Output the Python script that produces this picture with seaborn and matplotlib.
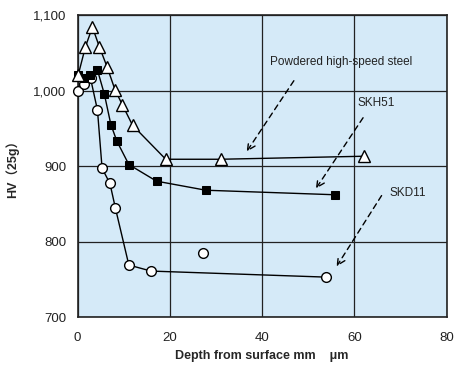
import matplotlib
matplotlib.use("Agg")
import matplotlib.pyplot as plt
import pandas as pd
import seaborn as sns

# Powdered high-speed steel (triangles)
phs_x = [0.1, 1.7, 3.2, 4.7, 6.4, 8.1, 9.7, 11.9, 19.1, 31.0, 62.0]
phs_y = [1020, 1058, 1084, 1058, 1031, 1001, 981, 954, 909, 909, 913]

# SKH51 (filled squares)
skh_x = [0.1, 1.4, 2.7, 4.3, 5.8, 7.2, 8.5, 11.1, 17.1, 27.8, 55.8]
skh_y = [1020, 1017, 1020, 1027, 995, 955, 933, 902, 880, 868, 862]

# SKD11 (open circles)
skd_x = [0.1, 1.4, 2.8, 4.3, 5.3, 7.0, 8.2, 11.1, 15.9, 53.8]
skd_y = [1000, 1008, 1016, 974, 897, 877, 844, 769, 761, 753]
skd_extra_x = [27.2]
skd_extra_y = [785]

x_ticks = [0, 20, 40, 60, 80]
y_ticks = [700, 800, 900, 1000, 1100]
y_tick_labels = ["700", "800", "900", "1,000", "1,100"]

sns.set_style("white")
plt.rcParams['font.family'] = ['Liberation Sans', 'Noto Sans CJK JP', 'DejaVu Sans']

fig = plt.figure(figsize=(4.54, 3.74), dpi=100)
ax = fig.add_axes([0.171, 0.152, 0.813, 0.808])
ax.set_facecolor("#d5eaf8")

phs = pd.DataFrame({"x": phs_x, "y": phs_y})
skh = pd.DataFrame({"x": skh_x, "y": skh_y})
skd = pd.DataFrame({"x": skd_x, "y": skd_y})

sns.lineplot(data=skd, x="x", y="y", ax=ax, color="black", lw=1, marker="o",
             markersize=7, markerfacecolor="white", markeredgecolor="black",
             markeredgewidth=1, zorder=3, clip_on=False)
sns.scatterplot(x=skd_extra_x, y=skd_extra_y, ax=ax, marker="o", s=49,
                facecolor="white", edgecolor="black", linewidth=1, zorder=3)
sns.lineplot(data=skh, x="x", y="y", ax=ax, color="black", lw=1, marker="s",
             markersize=6, markerfacecolor="black", markeredgecolor="black",
             zorder=4, clip_on=False)
sns.lineplot(data=phs, x="x", y="y", ax=ax, color="black", lw=1, marker="^",
             markersize=8, markerfacecolor="white", markeredgecolor="black",
             markeredgewidth=1, zorder=5, clip_on=False)

ax.set_xlim(0, 80)
ax.set_ylim(700, 1100)
ax.set_xticks(x_ticks)
ax.set_yticks(y_ticks)
ax.set_yticklabels(y_tick_labels)
ax.grid(True, color="#222222", lw=0.9)
ax.set_axisbelow(True)
for s in ax.spines.values():
    s.set_color("#222222")
    s.set_linewidth(1.2)
ax.tick_params(length=0, labelsize=9.5, pad=8, colors="#222222")
ax.tick_params(axis="x", pad=11)

ax.set_xlabel("Depth from surface mm    \u03bcm", fontsize=9, fontweight="bold", labelpad=4)
ax.set_ylabel("HV（25g）", fontsize=9, fontweight="bold", labelpad=10)

arrow = dict(arrowstyle="->", linestyle=(0, (4, 3)), color="black", lw=1,
             mutation_scale=14)
ax.annotate("Powdered high-speed steel", xy=(36.3, 916), xytext=(57.1, 1030),
            ha="center", va="bottom", fontsize=8.5, color="#222222")
ax.annotate("", xy=(36.3, 916), xytext=(47.2, 1016), arrowprops=arrow)
ax.annotate("SKH51", xy=(51.3, 867), xytext=(64.7, 983),
            ha="center", va="center", fontsize=8.5, color="#222222")
ax.annotate("", xy=(51.3, 867), xytext=(62.2, 967), arrowprops=arrow)
ax.annotate("SKD11", xy=(55.8, 764), xytext=(67.6, 864),
            ha="left", va="center", fontsize=8.5, color="#222222")
ax.annotate("", xy=(55.8, 764), xytext=(66.2, 864), arrowprops=arrow)

fig.savefig("out.png", dpi=100)
